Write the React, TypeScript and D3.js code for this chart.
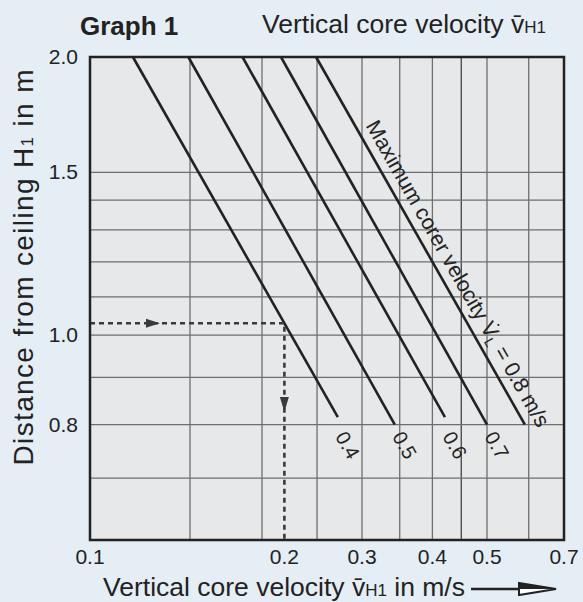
import * as d3 from 'd3'

// Grid values on both log axes (no minor lines between 1.5 and 2.0)
const X_GRID = [0.15, 0.2, 0.25, 0.3, 0.35, 0.4, 0.45, 0.5, 0.6]
const Y_GRID = [0.7, 0.8, 0.9, 1.0, 1.1, 1.2, 1.3, 1.4, 1.5]
const X_TICKS = ['0.1', '0.2', '0.3', '0.4', '0.5', '0.7']
const Y_TICKS = ['0.8', '1.0', '1.5', '2.0']

// Lines of constant max core velocity, read as [velocity, distance] end points
const LINE_LABELS = ['0.4', '0.5', '0.6', '0.7', '0.8']
const LINE_TOP: [number, number][] = [
  [0.119, 2.0],
  [0.149, 2.0],
  [0.185, 2.0],
  [0.216, 2.0],
  [0.249, 2.0],
]
const LINE_BOTTOM: [number, number][] = [
  [0.272, 0.815],
  [0.343, 0.8],
  [0.421, 0.815],
  [0.5, 0.8],
  [0.59, 0.8],
]

// Worked example: H1 = 1.03 m on the 0.4 line gives about 0.22 m/s
const READING_H = 1.03
const READING_V = 0.219

const W = 583
const H = 602
const FONT = '"Liberation Sans", Arial, Helvetica, sans-serif'
const INK = '#222'

export default function App() {
  const plot = { left: 90, right: 564, top: 57, bottom: 540 }

  // the printed axis is slightly uneven, so the log scale is piecewise
  const x = d3.scaleLog()
    .domain([0.1, 0.15, 0.2, 0.3, 0.5, 0.7])
    .range([plot.left, 190, 262, 362, 487, plot.right])
  const y = d3.scaleLog()
    .domain([0.6, 2.0])
    .range([plot.bottom, plot.top])

  const line = d3.line<[number, number]>()
    .x(d => x(d[0]))
    .y(d => y(d[1]))

  const rx = x(READING_V)
  const ry = y(READING_H)
  const hArrowX = plot.left + (rx - plot.left) * 0.36
  const vArrowY = ry + (plot.bottom - ry) * 0.41

  const last = LINE_LABELS.length - 1
  const mx0 = x(LINE_TOP[last][0])
  const my0 = y(LINE_TOP[last][1])
  const mx1 = x(LINE_BOTTOM[last][0])
  const my1 = y(LINE_BOTTOM[last][1])
  const angle = (Math.atan2(my1 - my0, mx1 - mx0) * 180) / Math.PI

  return (
    <div style={{ position: 'absolute', left: 0, top: 0 }}>
      <svg width={W} height={H} style={{ display: 'block', fontFamily: FONT }}>
        <rect width={W} height={H} fill="#e5edf5" />

        <text x={80} y={35} fontSize={26} fontWeight="bold" fill={INK}>Graph 1</text>
        <text x={262} y={33} fontSize={26.5} fill={INK}>
          Vertical core velocity v̄<tspan fontSize={17}>H1</tspan>
        </text>

        <rect
          x={plot.left}
          y={plot.top}
          width={plot.right - plot.left}
          height={plot.bottom - plot.top}
          fill="#e7e8e9"
        />

        {X_GRID.map(v => (
          <line
            key={'gx' + v}
            x1={x(v)}
            x2={x(v)}
            y1={plot.top}
            y2={plot.bottom}
            stroke={v === 0.45 ? '#111' : '#6e6e6e'}
            strokeWidth={v === 0.45 ? 1 : 1.3}
          />
        ))}
        {Y_GRID.map(v => (
          <line
            key={'gy' + v}
            x1={plot.left}
            x2={plot.right}
            y1={y(v)}
            y2={y(v)}
            stroke="#6e6e6e"
            strokeWidth={1.3}
          />
        ))}

        {LINE_LABELS.map((lab, i) => (
          <path
            key={'l' + lab}
            d={line([LINE_TOP[i], LINE_BOTTOM[i]]) || ''}
            fill="none"
            stroke={INK}
            strokeWidth={2.6}
          />
        ))}

        {LINE_LABELS.slice(0, last).map((lab, i) => (
          <text
            key={'t' + lab}
            transform={`translate(${x(LINE_BOTTOM[i][0]) - 3},${y(0.8) + 12}) rotate(${angle})`}
            fontSize={20}
            fill={INK}
          >
            {lab}
          </text>
        ))}

        <text
          transform={`translate(${mx0},${my0}) rotate(${angle})`}
          x={84}
          y={-9}
          fontSize={21.5}
          fill={INK}
        >
          Maximum corer velocity V̇<tspan fontSize={14} dy={4}>L</tspan>
          <tspan dy={-4}> = {LINE_LABELS[last]} m/s</tspan>
        </text>

        {/* worked example guide lines */}
        <path
          d={`M${plot.left},${ry}H${rx}V${plot.bottom}`}
          fill="none"
          stroke="#3a3a3a"
          strokeWidth={2.6}
          strokeDasharray="5,4"
        />
        <path
          d={`M${hArrowX},${ry}l-14,-4.5v9z`}
          fill="#3a3a3a"
        />
        <path
          d={`M${rx},${vArrowY}l-4.5,-15h9z`}
          fill="#3a3a3a"
        />

        <rect
          x={plot.left}
          y={plot.top}
          width={plot.right - plot.left}
          height={plot.bottom - plot.top}
          fill="none"
          stroke={INK}
          strokeWidth={2.5}
        />

        {X_TICKS.map(t => (
          <text
            key={'xt' + t}
            x={t === '0.2' ? rx : x(+t)}
            y={564}
            fontSize={21}
            textAnchor="middle"
            fill={INK}
          >
            {t}
          </text>
        ))}
        {Y_TICKS.map(t => (
          <text
            key={'yt' + t}
            x={78}
            y={y(+t) + 7}
            fontSize={21}
            textAnchor="end"
            fill={INK}
          >
            {t}
          </text>
        ))}

        <text x={103} y={596} fontSize={26.5} fill={INK}>
          Vertical core velocity v̄<tspan fontSize={17}>H1</tspan> in m/s
        </text>
        <line x1={471} x2={522} y1={589} y2={589} stroke={INK} strokeWidth={2.5} />
        <path d="M519,583L556,589L519,595z" fill="#fff" stroke={INK} strokeWidth={2} />
        <path d="M519,583L556,589L519,589z" fill={INK} />

        <text
          transform={`translate(33,${(plot.top + plot.bottom) / 2 - 31}) rotate(-90)`}
          fontSize={28}
          textAnchor="middle"
          textLength={396}
          lengthAdjust="spacing"
          fill={INK}
        >
          Distance from ceiling H<tspan fontSize={17}>1</tspan> in m
        </text>
      </svg>
    </div>
  )
}
